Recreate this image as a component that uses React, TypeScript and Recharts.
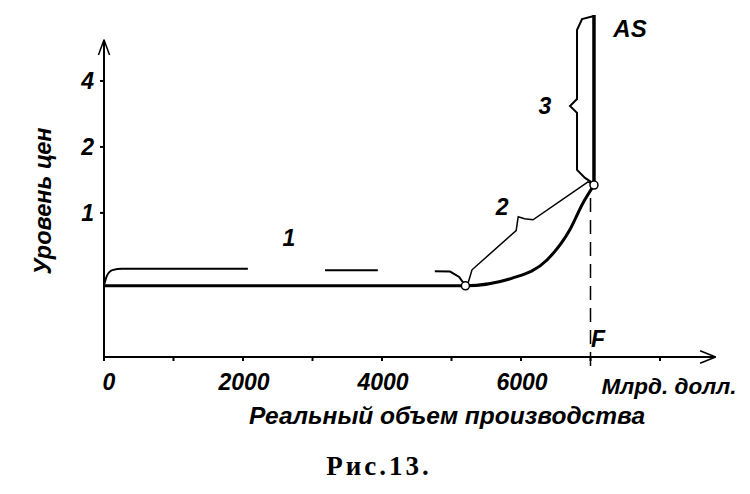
import {
  LineChart,
  Line,
  XAxis,
  YAxis,
  ReferenceLine,
  ReferenceDot,
} from "recharts";

// AS curve: horizontal part, intermediate part
const asCurve = [
  { q: 0, p: 0.465 },
  { q: 5200, p: 0.465 },
  { q: 5885, p: 0.505 },
  { q: 6374, p: 0.61 },
  { q: 6705, p: 0.84 },
  { q: 6892, p: 1.11 },
  { q: 7050, p: 1.34 },
];

// vertical (classical) part
const asVertical = [
  { q: 7050, p: 1.34 },
  { q: 7050, p: 8 },
];

// brace over segment 1 (drawn with gaps)
const brace1a = [
  { q: 0, p: 0.465 },
  { q: 40, p: 0.515 },
  { q: 120, p: 0.548 },
  { q: 260, p: 0.556 },
  { q: 2070, p: 0.556 },
];
const brace1b = [
  { q: 3180, p: 0.548 },
  { q: 3940, p: 0.548 },
];
const brace1c = [
  { q: 4760, p: 0.542 },
  { q: 4980, p: 0.54 },
  { q: 5110, p: 0.51 },
  { q: 5200, p: 0.465 },
];

// brace for segment 2
const brace2 = [
  { q: 5223, p: 0.46 },
  { q: 5295, p: 0.55 },
  { q: 5930, p: 0.83 },
  { q: 5960, p: 0.96 },
  { q: 6050, p: 0.94 },
  { q: 6173, p: 0.93 },
  { q: 6964, p: 1.385 },
  { q: 7050, p: 1.34 },
];

// brace for segment 3
const brace3 = [
  { q: 7050, p: 1.356 },
  { q: 6921, p: 1.444 },
  { q: 6806, p: 1.571 },
  { q: 6806, p: 2.86 },
  { q: 6705, p: 3.075 },
  { q: 6806, p: 3.31 },
  { q: 6806, p: 6.83 },
  { q: 6878, p: 7.67 },
  { q: 7050, p: 7.92 },
];

const xTicks = [0, 1000, 2000, 3000, 4000, 5000, 6000, 7000, 8000];
const xLabeled = [0, 2000, 4000, 6000];
const yTicks = [1, 2, 4];

const points = [
  { q: 5200, p: 0.465 },
  { q: 7050, p: 1.34 },
];

const notes = [
  { q: 2662, p: 0.769, text: "1" },
  { q: 5727, p: 1.065, text: "2" },
  { q: 6345, p: 3.075, text: "3" },
  { q: 7568, p: 6.97, text: "AS" },
  { q: 7108, p: 0.266, text: "F" },
];

const F_Q = 7000;

const font = "'Liberation Sans', Arial, sans-serif";

const XTick = ({ x, y, payload }: any) => {
  if (!xLabeled.includes(payload.value)) return null;
  return (
    <text
      x={x + (payload.value === 0 ? 5 : 1)}
      y={y + 19}
      textAnchor="middle"
      dominantBaseline="central"
      fontFamily={font}
      fontStyle="italic"
      fontWeight="bold"
      fontSize={23}
      fill="#000"
    >
      {payload.value}
    </text>
  );
};

const YTick = ({ x, y, payload }: any) => (
  <text
    x={x - 4}
    y={y}
    textAnchor="end"
    dominantBaseline="central"
    fontFamily={font}
    fontStyle="italic"
    fontWeight="bold"
    fontSize={23}
    fill="#000"
  >
    {payload.value}
  </text>
);

const noteShape = (text: string) => (props: any) => (
  <text
    x={props.cx}
    y={props.cy}
    textAnchor="middle"
    dominantBaseline="central"
    fontFamily={font}
    fontStyle="italic"
    fontWeight="bold"
    fontSize={text === "AS" ? 24 : 23}
    fill="#000"
  >
    {text}
  </text>
);

export default function App() {
  return (
    <div style={{ position: "absolute", left: 0, top: 0, width: 750, height: 494, background: "#fff" }}>
      <LineChart
        width={750}
        height={494}
        margin={{ top: 15, right: 34.4, bottom: 97, left: 64 }}
      >
        <XAxis
          dataKey="q"
          type="number"
          domain={[0, 8800]}
          ticks={xTicks}
          height={40}
          tick={<XTick />}
          tickSize={4}
          axisLine={{ stroke: "#000", strokeWidth: 2 }}
          tickLine={{ stroke: "#000", strokeWidth: 2 }}
        />
        <YAxis
          type="number"
          scale="log"
          domain={[0.22, 8]}
          ticks={yTicks}
          width={40}
          tick={<YTick />}
          tickSize={4}
          axisLine={false}
          tickLine={{ stroke: "#000", strokeWidth: 2 }}
        />

        {/* y axis with arrow */}
        <ReferenceLine
          segment={[{ x: 0, y: 0.22 }, { x: 0, y: 6.16 }]}
          stroke="#000"
          strokeWidth={2}
          ifOverflow="visible"
        />
        <ReferenceLine
          segment={[{ x: -80, y: 5.26 }, { x: 0, y: 6.16 }]}
          stroke="#000"
          strokeWidth={1.5}
          ifOverflow="visible"
        />
        <ReferenceLine
          segment={[{ x: 80, y: 5.26 }, { x: 0, y: 6.16 }]}
          stroke="#000"
          strokeWidth={1.5}
          ifOverflow="visible"
        />
        {/* x axis arrow */}
        <ReferenceLine
          segment={[{ x: 8576, y: 0.235 }, { x: 8800, y: 0.22 }]}
          stroke="#000"
          strokeWidth={1.5}
          ifOverflow="visible"
        />
        <ReferenceLine
          segment={[{ x: 8576, y: 0.206 }, { x: 8800, y: 0.22 }]}
          stroke="#000"
          strokeWidth={1.5}
          ifOverflow="visible"
        />

        {/* F: full employment output */}
        <ReferenceLine
          segment={[{ x: F_Q, y: 0.2 }, { x: F_Q, y: 1.2 }]}
          stroke="#000"
          strokeWidth={1.5}
          strokeDasharray="14 8"
          ifOverflow="visible"
        />

        <Line data={brace1a} dataKey="p" type="monotone" stroke="#000" strokeWidth={2} dot={false} isAnimationActive={false} />
        <Line data={brace1b} dataKey="p" type="linear" stroke="#000" strokeWidth={2} dot={false} isAnimationActive={false} />
        <Line data={brace1c} dataKey="p" type="linear" stroke="#000" strokeWidth={2} dot={false} isAnimationActive={false} />
        <Line data={brace2} dataKey="p" type="linear" stroke="#000" strokeWidth={1.5} dot={false} isAnimationActive={false} />
        <Line data={brace3} dataKey="p" type="linear" stroke="#000" strokeWidth={2} dot={false} isAnimationActive={false} />

        <Line data={asCurve} dataKey="p" type="monotone" stroke="#000" strokeWidth={3} dot={false} isAnimationActive={false} />
        <Line data={asVertical} dataKey="p" type="linear" stroke="#000" strokeWidth={3.5} dot={false} isAnimationActive={false} />

        {points.map((pt, i) => (
          <ReferenceDot key={i} x={pt.q} y={pt.p} r={4} fill="#fff" stroke="#000" strokeWidth={1.5} />
        ))}
        {notes.map((n) => (
          <ReferenceDot key={n.text} x={n.q} y={n.p} r={1} shape={noteShape(n.text)} />
        ))}
      </LineChart>

      <svg
        width={750}
        height={494}
        style={{ position: "absolute", left: 0, top: 0, pointerEvents: "none" }}
      >
        <text
          x={43}
          y={201}
          transform="rotate(-90 43 201)"
          textAnchor="middle"
          dominantBaseline="central"
          fontFamily={font}
          fontStyle="italic"
          fontWeight="bold"
          fontSize={23.5}
        >
          Уровень цен
        </text>
        <text
          x={669}
          y={386}
          textAnchor="middle"
          dominantBaseline="central"
          fontFamily={font}
          fontStyle="italic"
          fontWeight="bold"
          fontSize={22.5}
        >
          Млрд. долл.
        </text>
        <text
          x={447}
          y={415}
          textAnchor="middle"
          dominantBaseline="central"
          fontFamily={font}
          fontStyle="italic"
          fontWeight="bold"
          fontSize={24.5}
        >
          Реальный объем производства
        </text>
        <text
          x={379}
          y={466}
          textAnchor="middle"
          dominantBaseline="central"
          fontFamily="'Liberation Serif', 'Times New Roman', serif"
          fontWeight="bold"
          fontSize={27}
          letterSpacing={3}
        >
          Рис.13.
        </text>
      </svg>
    </div>
  );
}
